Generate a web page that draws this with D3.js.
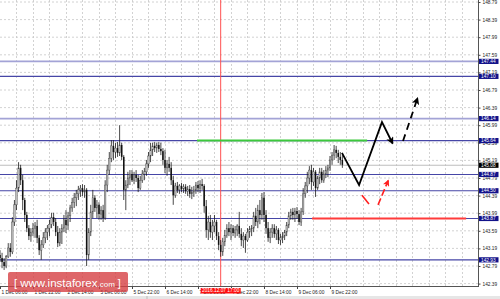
<!DOCTYPE html>
<html><head><meta charset="utf-8">
<script src="https://cdn.jsdelivr.net/npm/d3@7/dist/d3.min.js"></script>
<style>body{margin:0;background:#fff}svg{display:block}</style>
</head><body><svg id="c" width="500" height="299"></svg>
<script>
// ---- data (USD/JPY H1, prices) ----
const opens=[143.04,142.97,142.88,142.79,143.00,143.20,143.11,143.79,144.18,144.56,145.02,144.74,144.29,143.95,143.65,143.47,143.56,143.65,143.70,143.43,143.15,143.27,143.43,143.56,143.65,143.74,143.90,143.79,143.56,143.31,143.56,143.65,143.84,143.72,143.93,144.11,144.24,144.34,144.43,144.52,144.56,144.47,144.52,143.04,143.56,144.02,144.34,144.11,144.18,143.97,144.06,143.88,144.63,144.97,145.24,145.52,145.38,145.47,145.36,145.54,145.27,144.52,144.63,144.79,144.88,144.74,144.86,144.79,144.56,144.74,144.88,144.93,145.11,145.29,145.43,145.52,145.47,145.54,145.45,145.40,145.20,145.02,145.11,145.02,144.74,144.40,144.61,144.52,144.61,144.54,144.59,144.49,144.54,144.43,144.47,144.52,144.63,144.56,144.65,144.61,144.15,143.61,143.79,143.56,143.70,143.79,143.47,143.27,143.11,143.34,143.49,143.65,143.56,143.65,143.54,143.61,143.70,143.52,143.38,143.47,143.38,143.56,143.63,143.65,143.93,143.79,144.06,143.95,144.34,143.95,143.65,143.43,143.56,143.65,143.52,143.61,143.38,143.43,143.47,143.56,143.72,143.93,144.02,143.95,144.04,143.97,143.79,144.02,144.43,144.61,144.79,144.97,144.70,144.93,144.56,144.79,144.93,144.74,144.88,144.97,145.02,145.20,145.31,145.43,145.36,145.27,145.20];
const highs=[143.15,143.09,142.97,143.04,143.31,143.31,143.90,144.29,144.74,145.15,145.09,144.86,144.34,144.02,143.72,143.65,143.77,143.79,143.84,143.49,143.38,143.56,143.65,143.72,143.84,144.00,144.00,143.88,143.70,143.65,143.74,143.95,144.06,144.02,144.18,144.34,144.45,144.52,144.61,144.63,144.65,144.63,144.56,143.65,144.18,144.52,144.40,144.29,144.24,144.15,144.18,144.74,145.09,145.38,145.65,145.65,145.59,145.61,145.99,145.59,145.31,144.74,144.93,144.97,144.97,144.93,144.97,144.86,144.84,144.97,145.02,145.20,145.38,145.59,145.59,145.61,145.59,145.61,145.59,145.47,145.43,145.20,145.27,145.15,144.84,144.68,144.70,144.65,144.68,144.65,144.65,144.61,144.63,144.59,144.61,144.70,144.72,144.74,144.77,144.65,144.29,143.93,143.95,143.84,143.95,143.84,143.56,143.38,143.43,143.61,143.74,143.79,143.74,143.72,143.70,143.74,144.02,143.65,143.56,143.52,143.65,143.70,143.72,144.02,144.11,144.18,144.29,144.45,144.47,144.06,143.79,143.65,143.74,143.74,143.70,143.65,143.52,143.56,143.61,143.79,144.02,144.09,144.11,144.11,144.13,144.06,144.11,144.56,144.70,144.93,145.06,145.09,145.02,144.97,144.84,145.02,145.02,144.97,145.06,145.09,145.29,145.38,145.54,145.52,145.43,145.38,145.31];
const lows=[142.88,142.74,142.70,142.74,142.97,143.00,143.06,143.70,144.06,144.47,144.63,144.06,143.79,143.56,143.38,143.34,143.47,143.43,143.31,143.04,142.93,143.20,143.31,143.38,143.47,143.65,143.70,143.47,143.22,143.24,143.29,143.56,143.54,143.61,143.79,144.02,144.11,144.15,144.29,144.36,144.38,144.34,142.79,142.93,143.47,143.88,144.02,143.88,143.84,143.84,143.79,143.84,144.47,144.86,145.15,145.20,145.24,145.27,145.29,145.20,144.29,144.06,144.56,144.63,144.70,144.65,144.70,144.47,144.52,144.68,144.74,144.84,145.02,145.15,145.29,145.38,145.36,145.38,145.31,145.09,144.90,144.84,144.93,144.63,144.18,144.34,144.45,144.43,144.47,144.45,144.43,144.38,144.34,144.31,144.36,144.43,144.47,144.45,144.52,144.00,143.43,143.38,143.43,143.38,143.56,143.38,143.15,143.00,143.02,143.24,143.43,143.47,143.38,143.47,143.43,143.47,143.43,143.24,143.20,143.09,143.34,143.43,143.47,143.56,143.70,143.65,143.74,143.84,143.79,143.52,143.34,143.31,143.43,143.43,143.38,143.29,143.27,143.31,143.38,143.47,143.65,143.84,143.84,143.79,143.86,143.72,143.70,143.95,144.34,144.45,144.65,144.52,144.61,144.36,144.52,144.65,144.68,144.68,144.79,144.81,144.95,145.09,145.20,145.24,145.13,145.09,145.02];
const closes=[142.97,142.88,142.79,143.00,143.20,143.11,143.79,144.18,144.56,145.02,144.74,144.29,143.95,143.65,143.47,143.56,143.65,143.70,143.43,143.15,143.27,143.43,143.56,143.65,143.74,143.90,143.79,143.56,143.31,143.56,143.65,143.84,143.72,143.93,144.11,144.24,144.34,144.43,144.52,144.56,144.47,144.52,143.04,143.56,144.02,144.34,144.11,144.18,143.97,144.06,143.88,144.63,144.97,145.24,145.52,145.38,145.47,145.36,145.54,145.27,144.52,144.63,144.79,144.88,144.74,144.86,144.79,144.56,144.74,144.88,144.93,145.11,145.29,145.43,145.52,145.47,145.54,145.45,145.40,145.20,145.02,145.11,145.02,144.74,144.40,144.61,144.52,144.61,144.54,144.59,144.49,144.54,144.43,144.47,144.52,144.63,144.56,144.65,144.61,144.15,143.61,143.79,143.56,143.70,143.79,143.47,143.27,143.11,143.34,143.49,143.65,143.56,143.65,143.54,143.61,143.70,143.52,143.38,143.47,143.38,143.56,143.63,143.65,143.93,143.79,144.06,143.95,144.34,143.95,143.65,143.43,143.56,143.65,143.52,143.61,143.38,143.43,143.47,143.56,143.72,143.93,144.02,143.95,144.04,143.97,143.79,144.02,144.43,144.61,144.79,144.97,144.70,144.93,144.56,144.79,144.93,144.74,144.88,144.97,145.02,145.20,145.31,145.43,145.36,145.27,145.20,145.09];

const yTickValues=[148.79,148.39,147.99,147.59,147.19,146.79,146.39,145.99,145.59,145.19,144.79,144.39,143.99,143.59,143.19,142.79,142.39];
const timeTickBars=[0,16,32,48,64,80,96,112,128,144,160];
const timeTickLabels=["1 Dec 06:00","1 Dec 22:00","2 Dec 14:00","5 Dec 06:00","5 Dec 22:00","6 Dec 14:00","7 Dec 06:00","7 Dec 22:00","8 Dec 14:00","9 Dec 06:00","9 Dec 22:00"];
const levelPrices=[147.44,147.10,146.14,145.64,144.87,144.50,143.87,142.93];
const levelLabels=["147.44","147.10","146.14","145.64","144.87","144.50","143.87","142.93"];
const levelLight=[true,false,true,false,false,false,false,false];
const bidPrice=145.08, bidLabel="145.08";
const cursorBar=107, cursorLabel="2016.12.07 17:00";
const greenLevel={price:145.64, from:95.5, to:178};
const redLevel={price:143.87, from:151.3, to:226};
const forecastMain=[[165.8,145.36],[174.1,144.63],[185.2,146.06],[190.3,145.58]];
const forecastUp=[[195.4,145.63],[202.4,146.60]];
const forecastRedA=[[175.5,144.40],[178.9,144.20]];
const forecastRedB=[[183.3,144.18],[188.2,144.73]];

// ---- drawing ----
const plotW=478, plotB=286.5;
const svg=d3.select("#c");
const x=d3.scaleLinear().domain([0,231.76]).range([0,plotW]);
const y=d3.scaleLinear().domain([142.39,148.79]).range([283.6,2]);
const FONT="'Liberation Sans', Arial, sans-serif";

svg.append("rect").attr("width",500).attr("height",299).attr("fill","#fff");
svg.append("defs").append("clipPath").attr("id","pc").append("rect").attr("width",plotW).attr("height",plotB);
const defs=svg.select("defs");
function marker(id,color){
  defs.append("marker").attr("id",id).attr("viewBox","0 0 10 10").attr("refX",8).attr("refY",5)
   .attr("markerWidth",4.2).attr("markerHeight",4.2).attr("orient","auto").attr("markerUnits","strokeWidth")
   .append("path").attr("d","M0,0 L10,5 L0,10 L2.5,5 Z").attr("fill",color);
}
marker("ab","#000"); marker("ar","#ff2020");

const g=svg.append("g").attr("clip-path","url(#pc)");
// grid
const vGrid=d3.range(8,232,8);
g.selectAll(".vg").data(vGrid).join("line").attr("x1",d=>Math.round(x(d))+0.5).attr("x2",d=>Math.round(x(d))+0.5)
  .attr("y1",0).attr("y2",plotB).attr("stroke","#c6c6c6").attr("stroke-width",0.8).attr("stroke-dasharray","2,2");
g.selectAll(".hg").data(yTickValues).join("line").attr("x1",0).attr("x2",plotW)
  .attr("y1",d=>y(d)).attr("y2",d=>y(d)).attr("stroke","#c6c6c6").attr("stroke-width",0.8).attr("stroke-dasharray","2,2");

// bid line
g.append("line").attr("x1",0).attr("x2",plotW).attr("y1",y(bidPrice)).attr("y2",y(bidPrice)).attr("stroke","#bdbdbd").attr("stroke-width",1);

// level lines
g.selectAll(".lv").data(levelPrices).join("line").attr("x1",0).attr("x2",plotW)
  .attr("y1",d=>y(d)).attr("y2",d=>y(d))
  .attr("stroke",(d,i)=>levelLight[i]?"#a3a3d6":"#4646a6").attr("stroke-width",(d,i)=>levelLight[i]?1.6:1.1);

// cursor vertical line
g.append("line").attr("x1",x(cursorBar)).attr("x2",x(cursorBar)).attr("y1",0).attr("y2",plotB).attr("stroke","#ff5050").attr("stroke-width",1);

// green & red levels
g.append("line").attr("x1",x(greenLevel.from)).attr("x2",x(greenLevel.to)).attr("y1",y(greenLevel.price)).attr("y2",y(greenLevel.price)).attr("stroke","#3cc83c").attr("stroke-width",2);
g.append("line").attr("x1",x(redLevel.from)).attr("x2",x(redLevel.to)).attr("y1",y(redLevel.price)).attr("y2",y(redLevel.price)).attr("stroke","#ff3b3b").attr("stroke-width",2);

// candles
const bars=closes.map((c,i)=>({i,o:opens[i],h:highs[i],l:lows[i],c}));
g.selectAll(".wk").data(bars).join("line").attr("x1",d=>x(d.i)).attr("x2",d=>x(d.i))
  .attr("y1",d=>y(d.h)).attr("y2",d=>y(d.l)).attr("stroke","#1a1a1a").attr("stroke-width",0.8);
g.selectAll(".bd").data(bars).join("rect").attr("x",d=>x(d.i)-0.75).attr("width",1.5)
  .attr("y",d=>y(Math.max(d.o,d.c))).attr("height",d=>Math.max(0.6,Math.abs(y(d.o)-y(d.c))))
  .attr("fill",d=>d.c>=d.o?"#bdbdbd":"#111").attr("stroke",d=>d.c>=d.o?"#444":"none").attr("stroke-width",0.4);

// forecast arrows
const line=d3.line().x(d=>x(d[0])).y(d=>y(d[1]));
g.append("path").attr("d",line(forecastMain)).attr("fill","none").attr("stroke","#000").attr("stroke-width",1.8).attr("marker-end","url(#ab)");
g.append("path").attr("d",line(forecastUp)).attr("fill","none").attr("stroke","#000").attr("stroke-width",1.8).attr("stroke-dasharray","7,5").attr("marker-end","url(#ab)");
g.append("path").attr("d",line(forecastRedA)).attr("fill","none").attr("stroke","#ff2020").attr("stroke-width",1.6);
g.append("path").attr("d",line(forecastRedB)).attr("fill","none").attr("stroke","#ff2020").attr("stroke-width",1.6).attr("stroke-dasharray","7,3").attr("marker-end","url(#ar)");

// frame
svg.append("line").attr("x1",plotW+0.5).attr("x2",plotW+0.5).attr("y1",0).attr("y2",plotB).attr("stroke","#555").attr("stroke-width",1);
svg.append("line").attr("x1",0).attr("x2",plotW+1).attr("y1",plotB).attr("y2",plotB).attr("stroke","#555").attr("stroke-width",1);

// right axis
const ya=svg.append("g").attr("transform",`translate(${plotW+0.5},0)`)
  .call(d3.axisRight(y).tickValues(yTickValues).tickSize(2).tickPadding(2).tickFormat(d3.format(".2f")));
ya.select(".domain").remove();
ya.selectAll("line").attr("stroke","#444");
ya.selectAll("text").attr("font-family",FONT).attr("font-size",4.8).attr("fill","#222");

// bottom axis
const xa=svg.append("g").attr("transform",`translate(0,${plotB})`)
  .call(d3.axisBottom(x).tickValues(timeTickBars).tickSize(2.5).tickPadding(1.5).tickFormat((d,i)=>timeTickLabels[i]));
xa.select(".domain").remove();
xa.selectAll("line").attr("stroke","#444");
xa.selectAll("text").attr("font-family",FONT).attr("font-size",4.8).attr("fill","#222").attr("text-anchor","start").attr("dx",1);

// level labels
const lb=svg.selectAll(".lb").data(levelPrices).join("g").attr("transform",d=>`translate(${plotW+1},${y(d)})`);
lb.append("rect").attr("x",0).attr("y",-2.6).attr("width",19.5).attr("height",5.2).attr("fill","#12128a");
lb.append("text").attr("x",2).attr("y",1.7).attr("font-family",FONT).attr("font-size",4.8).attr("fill","#fff").text((d,i)=>levelLabels[i]);
const bl=svg.append("g").attr("transform",`translate(${plotW+1},${y(bidPrice)})`);
bl.append("rect").attr("x",0).attr("y",-2.6).attr("width",19.5).attr("height",5.2).attr("fill","#000");
bl.append("text").attr("x",2).attr("y",1.7).attr("font-family",FONT).attr("font-size",4.8).attr("fill","#fff").text(bidLabel);

// cursor label
const cl=svg.append("g").attr("transform",`translate(${x(cursorBar)},${plotB+1.5})`);
cl.append("rect").attr("x",-20).attr("y",0).attr("width",40).attr("height",5.5).attr("fill","#ff1010");
cl.append("text").attr("x",0).attr("y",4.3).attr("text-anchor","middle").attr("font-family",FONT).attr("font-size",4.8).attr("fill","#fff").text(cursorLabel);

// bottom window strip
svg.append("rect").attr("x",0).attr("y",296).attr("width",500).attr("height",3).attr("fill","#e6e6e6");
svg.append("line").attr("x1",147).attr("x2",147).attr("y1",296).attr("y2",299).attr("stroke","#bbb");

// watermark
const wm=svg.append("g");
wm.append("rect").attr("x",8).attr("y",272).attr("width",120).attr("height",20).attr("rx",2).attr("fill","rgba(214,64,68,0.8)");
const wt=wm.append("text").attr("x",14).attr("y",286.5).attr("font-family",FONT).attr("fill","#fff");
wt.append("tspan").attr("font-size",11).text("[ ");
wt.append("tspan").attr("font-size",11.5).text("www.instaforex");
wt.append("tspan").attr("font-size",8).text(".com");
wt.append("tspan").attr("font-size",11).text(" ]");
</script></body></html>
